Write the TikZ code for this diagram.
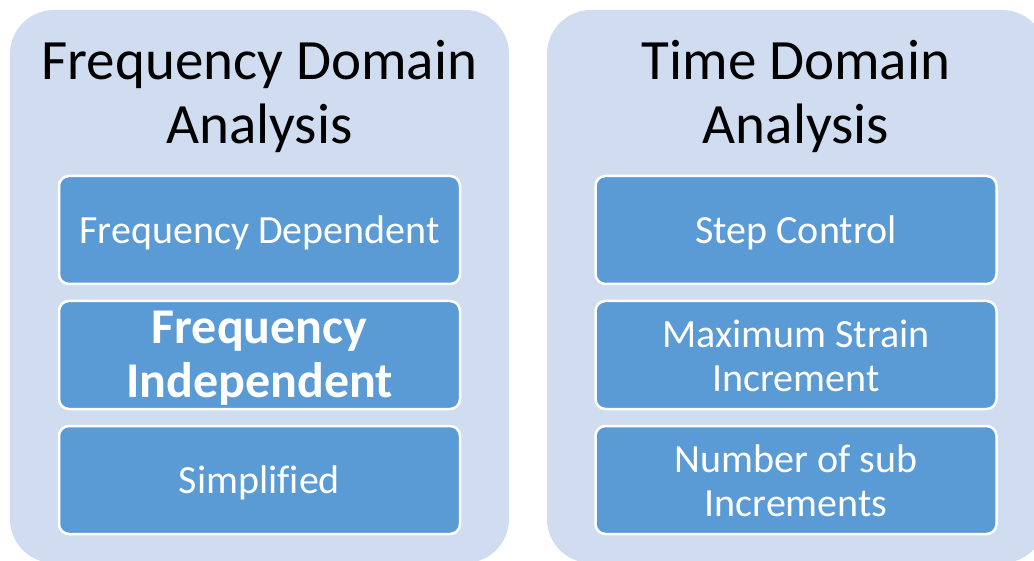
\documentclass[tikz,border=0pt]{standalone}
\usepackage{fontspec}
\setmainfont{Carlito}[Ligatures=CommonOff]
\definecolor{panelfill}{RGB}{208,220,239}
\definecolor{itemfill}{RGB}{91,155,213}
\begin{document}
\begin{tikzpicture}[x=1pt,y=-1pt,
  panel/.style={fill=panelfill, draw=none, rounded corners=44pt},
  itembox/.style={fill=itemfill, draw=white, line width=2.5pt, rounded corners=10pt,
    minimum width=401pt, minimum height=108pt, inner sep=0pt},
  itemtext/.style={text=white, align=center, inner sep=0pt, font=\fontsize{40}{44}\selectfont},
  boldtext/.style={itemtext, font=\bfseries\fontsize{50}{54}\selectfont},
  heading/.style={align=center, text=black, inner sep=0pt, font=\fontsize{57}{64}\selectfont}]
\useasboundingbox (0,0) rectangle (1034,561);
\clip (0,0) rectangle (1034,561);

% background panels
\path[panel] (10,10) rectangle (509,563);
\path[panel] (547,10) rectangle (1046,563);

% left column
\node[heading] (fdtitle) at (259.5,96) {Frequency Domain\\Analysis};
\node[itembox] (fd1) at (259.5,230) {};
\node[itembox] (fd2) at (259.5,355) {};
\node[itembox] (fd3) at (259.5,480) {};
\node[itemtext] (fd1t) at ([yshift=-3pt]fd1.center) {Frequency Dependent};
\node[boldtext] (fd2t) at ([yshift=-3pt]fd2.center) {Frequency\\Independent};
\node[itemtext] (fd3t) at ([yshift=-3pt]fd3.center) {Simplified};

% right column
\node[heading] (tdtitle) at (796,96) {Time Domain\\Analysis};
\node[itembox] (td1) at (796,230) {};
\node[itembox] (td2) at (796,355) {};
\node[itembox] (td3) at (796,480) {};
\node[itemtext] (td1t) at ([yshift=-3pt]td1.center) {Step Control};
\node[itemtext] (td2t) at ([yshift=-0.5pt]td2.center) {Maximum Strain\\Increment};
\node[itemtext] (td3t) at ([yshift=-0.5pt]td3.center) {Number of sub\\Increments};
\end{tikzpicture}
\end{document}
